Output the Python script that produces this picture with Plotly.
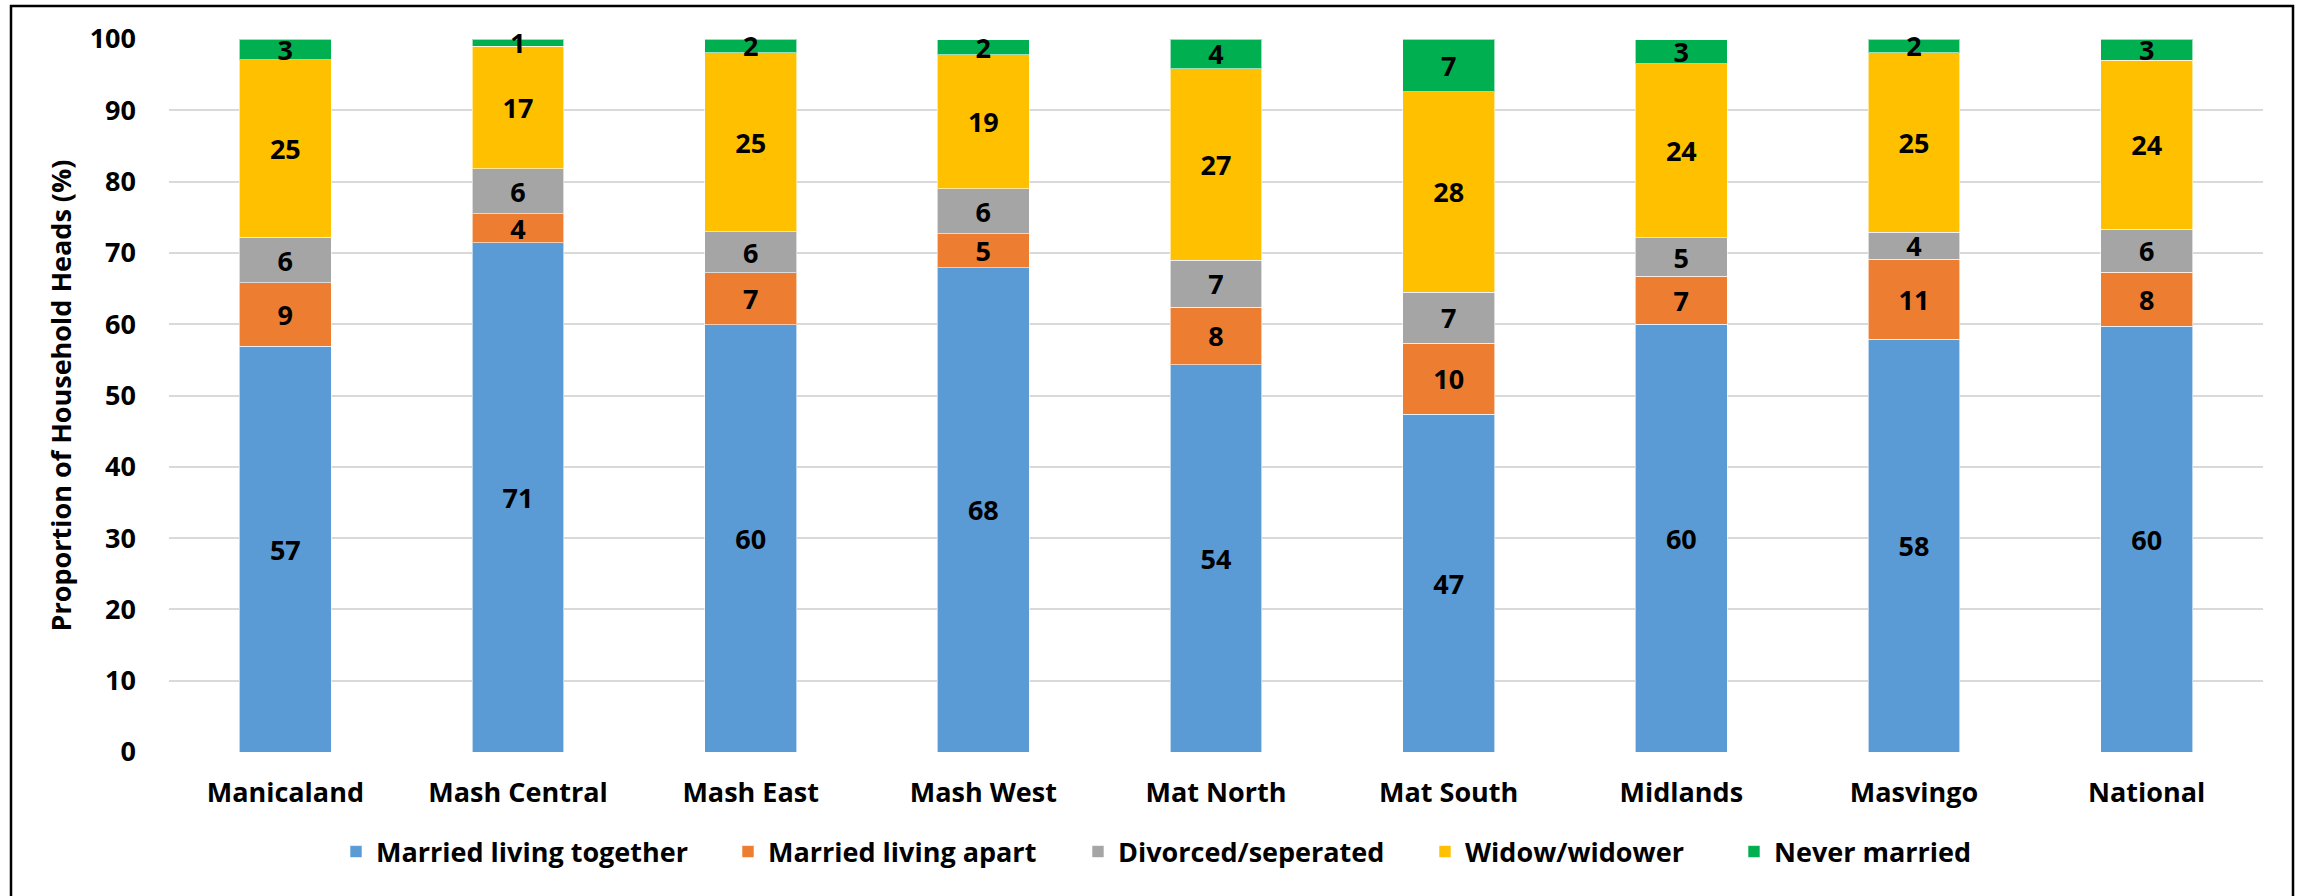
import plotly.graph_objects as go

# Marital status of household heads by province (%)
provinces = ["Manicaland", "Mash Central", "Mash East", "Mash West", "Mat North",
             "Mat South", "Midlands", "Masvingo", "National"]

married_together = [56.9, 71.4, 59.9, 67.9, 54.3, 47.4, 60.0, 57.9, 59.7]
married_apart = [8.9, 4.1, 7.3, 4.8, 8.1, 9.9, 6.7, 11.2, 7.6]
divorced = [6.4, 6.3, 5.8, 6.3, 6.6, 7.2, 5.4, 3.8, 6.0]
widowed = [24.9, 17.2, 25.1, 18.8, 26.8, 28.1, 24.4, 25.2, 23.7]
never_married = [2.9, 1.0, 1.9, 2.1, 4.2, 7.4, 3.4, 1.9, 3.0]

series = [
    ("Married living together", married_together, "#5B9BD5"),
    ("Married living apart", married_apart, "#ED7D31"),
    ("Divorced/seperated", divorced, "#A5A5A5"),
    ("Widow/widower", widowed, "#FFC000"),
    ("Never married", never_married, "#00B050"),
]

y_ticks = [0, 10, 20, 30, 40, 50, 60, 70, 80, 90, 100]

FONT = "Open Sans"
FS = 27

W, H = 2305, 896
L, R, T, B = 169, 42, 39, 144
pw, ph = W - L - R, H - T - B


def px_x(p):
    return (p - L) / pw


def px_y(p):
    return (H - B - p) / ph


# left edge (px) of each legend entry, one legend box per series
legend_left_px = [336, 728, 1078, 1425, 1734]
legend_ids = ["legend", "legend2", "legend3", "legend4", "legend5"]

fig = go.Figure()
for (name, vals, color), lid in zip(series, legend_ids):
    fig.add_trace(go.Bar(
        name=name,
        x=provinces,
        y=vals,
        legend=lid,
        showlegend=True,
        marker=dict(color=color, line=dict(color="rgba(255,255,255,0.6)", width=1)),
        texttemplate="%{y:.0f}",
        textposition="inside",
        insidetextanchor="middle",
        textangle=0,
        constraintext="none",
        textfont=dict(family=FONT, size=FS, color="black", weight="bold"),
        cliponaxis=False,
    ))

legend_style = dict(
    orientation="h",
    xanchor="left",
    y=px_y(852), yanchor="middle",
    font=dict(family=FONT, size=FS, color="black", weight="bold"),
    itemwidth=30,
    bgcolor="rgba(0,0,0,0)",
)

fig.update_layout(
    width=W, height=H,
    margin=dict(l=L, r=R, t=T, b=B, autoexpand=False),
    barmode="stack",
    bargap=0.605,
    showlegend=True,
    plot_bgcolor="white",
    paper_bgcolor="white",
    font=dict(family=FONT, size=FS, color="black", weight="bold"),
    uniformtext=dict(minsize=FS, mode="show"),
    xaxis=dict(
        showgrid=False,
        showline=False,
        ticks="",
        ticklabelstandoff=22,
        tickfont=dict(family=FONT, size=FS, color="black", weight="bold"),
        automargin=False,
    ),
    yaxis=dict(
        range=[0, 100],
        tickvals=y_ticks,
        showgrid=True,
        gridcolor="#D9D9D9",
        gridwidth=2,
        zeroline=False,
        showline=False,
        ticks="",
        ticklabelstandoff=32,
        tickfont=dict(family=FONT, size=FS, color="black", weight="bold"),
        title=dict(text="Proportion of Household Heads (%)",
                   font=dict(family=FONT, size=FS, color="black", weight="bold"),
                   standoff=10),
        automargin=False,
    ),
    shapes=[dict(
        type="rect", xref="paper", yref="paper",
        x0=px_x(11), x1=px_x(2293), y0=px_y(905), y1=px_y(6),
        line=dict(color="black", width=2.5),
        fillcolor="rgba(0,0,0,0)",
        layer="above",
    )],
)

for lid, lx in zip(legend_ids, legend_left_px):
    fig.update_layout({lid: dict(legend_style, x=px_x(lx))})

fig.write_html("out.html")
